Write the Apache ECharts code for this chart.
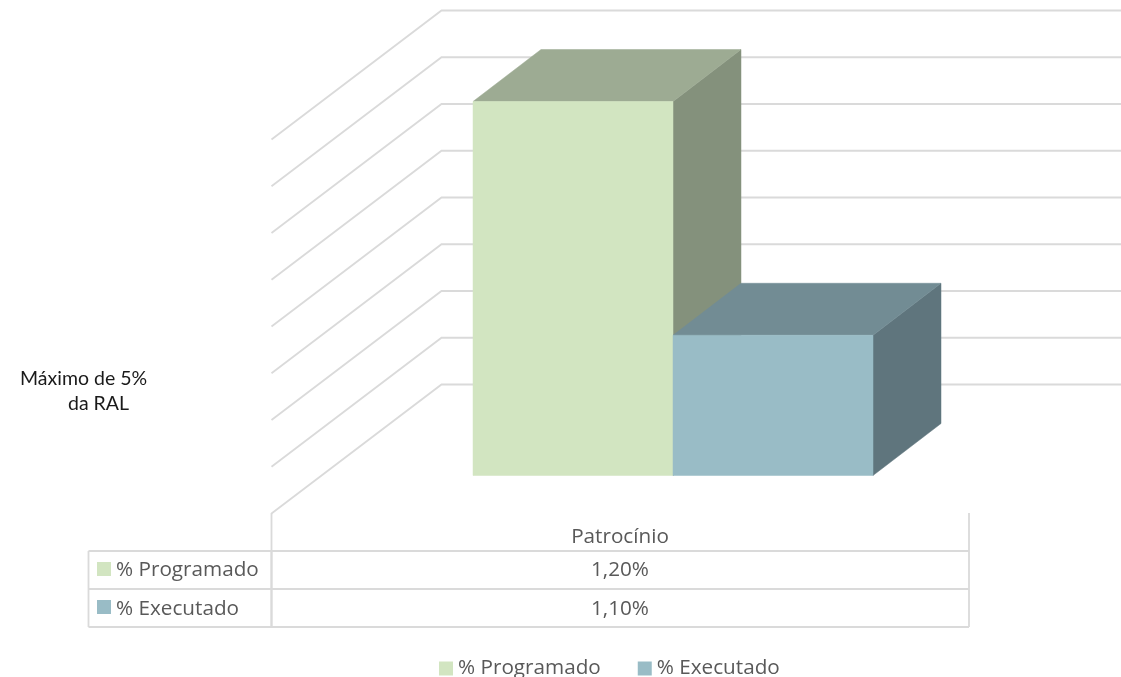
<!DOCTYPE html>
<html>
<head>
<meta charset="utf-8">
<style>html,body{margin:0;padding:0;background:#fff}#c{width:1121px;height:677px}</style>
<script src="https://cdn.jsdelivr.net/npm/echarts@6/dist/echarts.min.js"></script>
</head>
<body>
<div id="c"></div>
<script>
const categories = ['Patrocínio'];
const seriesNames = ['% Programado', '% Executado'];
const programado = [1.20];
const executado = [1.10];
const gridValues = [1.04, 1.06, 1.08, 1.10, 1.12, 1.14, 1.16, 1.18, 1.20];
const noteLines = ['Máximo de 5%', 'da RAL'];

const FONT = '"Open Sans", sans-serif';
const TEXT = '#595959';
const GRIDLINE = '#DADADA';
const WALL = { dx: 170, dy: -129 };
const BAR = { offX: 52.5, offY: -38, width: 200, dx: 68, dy: -52 };
const colors = [
  { front: '#D2E5C1', top: '#9DAB93', side: '#84917C' },
  { front: '#99BCC6', top: '#728C94', side: '#5F757D' }
];

const fmt = v => v.toFixed(2).replace('.', ',') + '%';

function wallItem(params, api) {
  const p = api.coord([0, api.value(0)]);
  const half = api.size([1, 0])[0] / 2;
  const x0 = p[0] - half, x1 = p[0] + half;
  return {
    type: 'polyline',
    shape: { points: [[x0, p[1]], [x0 + WALL.dx, p[1] + WALL.dy], [x1 + WALL.dx, p[1] + WALL.dy]] },
    style: { stroke: GRIDLINE, lineWidth: 1.8, fill: 'none' }
  };
}

function barRenderer(idx) {
  const c = colors[idx];
  return function (params, api) {
    const top = api.coord([api.value(0), api.value(1)]);
    const base = api.coord([api.value(0), gridValues[0]]);
    const xL = top[0] + BAR.offX + (idx - 1) * BAR.width;
    const xR = xL + BAR.width;
    const yT = top[1] + BAR.offY;
    const yB = base[1] + BAR.offY;
    const poly = (pts, fill) => ({
      type: 'polygon', shape: { points: pts },
      style: { fill: fill, stroke: fill, lineWidth: 0.5 }
    });
    return {
      type: 'group',
      children: [
        poly([[xR, yT], [xR + BAR.dx, yT + BAR.dy], [xR + BAR.dx, yB + BAR.dy], [xR, yB]], c.side),
        poly([[xL, yT], [xL + BAR.dx, yT + BAR.dy], [xR + BAR.dx, yT + BAR.dy], [xR, yT]], c.top),
        poly([[xL, yT], [xR, yT], [xR, yB], [xL, yB]], c.front)
      ]
    };
  };
}

function tableLine(x1, y1, x2, y2, w) {
  return { type: 'line', silent: true, shape: { x1, y1, x2, y2 }, style: { stroke: GRIDLINE, lineWidth: w } };
}
function tableText(x, y, text, align) {
  return { type: 'text', silent: true, x, y, style: { text, fill: TEXT, font: '20.7px ' + FONT, textAlign: align, textVerticalAlign: 'middle' } };
}
function keyBox(x, y, fill) {
  return { type: 'rect', silent: true, shape: { x, y, width: 14, height: 14 }, style: { fill } };
}

const graphics = [
  tableLine(271.5, 513, 271.5, 550, 1.8),
  tableLine(969, 513, 969, 627, 1.8),
  tableLine(88.5, 551, 969, 551, 1.8),
  tableLine(88.5, 589, 969, 589, 1.8),
  tableLine(88.5, 627, 969, 627, 1.8),
  tableLine(88.5, 551, 88.5, 627, 1.8),
  tableLine(271.5, 551, 271.5, 627, 2.4),
  keyBox(97, 562, colors[0].front),
  keyBox(97, 600, colors[1].front),
  tableText(116, 570.5, seriesNames[0], 'left'),
  tableText(116, 609.5, seriesNames[1], 'left'),
  tableText(620, 537.5, categories[0], 'center'),
  tableText(620, 570.5, fmt(programado[0]), 'center'),
  tableText(620, 609.5, fmt(executado[0]), 'center'),
  { type: 'text', silent: true, x: 20, y: 379, style: { text: noteLines[0], fill: '#1a1a1a', font: '19.5px Lato, sans-serif', textVerticalAlign: 'middle' } },
  { type: 'text', silent: true, x: 68, y: 404, style: { text: noteLines[1], fill: '#1a1a1a', font: '19.5px Lato, sans-serif', textVerticalAlign: 'middle' } }
];

const chart = echarts.init(document.getElementById('c'), null, { renderer: 'canvas' });
chart.setOption({
  animation: false,
  backgroundColor: '#fff',
  grid: { left: 271.5, width: 698, top: 139.5, height: 374 },
  xAxis: { type: 'category', data: categories, show: false },
  yAxis: { type: 'value', min: 1.04, max: 1.20, interval: 0.02, show: false },
  legend: {
    data: seriesNames,
    left: 434,
    top: 653,
    icon: 'rect',
    itemWidth: 14,
    itemHeight: 14,
    itemGap: 37,
    selectedMode: false,
    textStyle: { color: TEXT, fontFamily: '"Open Sans", sans-serif', fontSize: 20.7 }
  },
  graphic: graphics,
  series: [
    {
      type: 'custom', name: 'grid', silent: true, z: 1, clip: false,
      encode: { y: 0 },
      data: gridValues.map(v => [v]),
      renderItem: wallItem
    },
    {
      type: 'custom', name: seriesNames[0], silent: true, z: 2, clip: false,
      itemStyle: { color: colors[0].front },
      encode: { x: 0, y: 1 },
      data: programado.map((v, i) => [i, v]),
      renderItem: barRenderer(0)
    },
    {
      type: 'custom', name: seriesNames[1], silent: true, z: 3, clip: false,
      itemStyle: { color: colors[1].front },
      encode: { x: 0, y: 1 },
      data: executado.map((v, i) => [i, v]),
      renderItem: barRenderer(1)
    }
  ]
});
</script>
</body>
</html>
